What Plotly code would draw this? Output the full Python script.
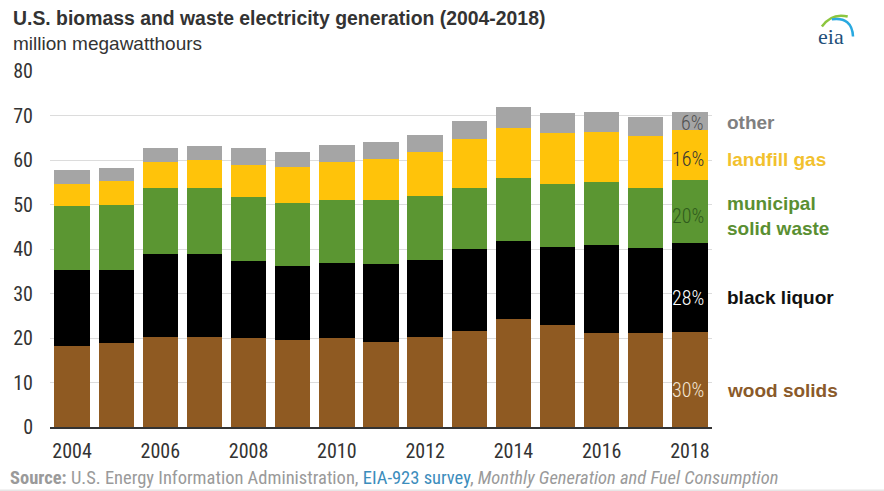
import plotly.graph_objects as go

# U.S. biomass and waste electricity generation, million MWh
years = list(range(2004, 2019))
wood_solids = [18.2, 18.8, 20.2, 20.3, 20.1, 19.6, 20.0, 19.1, 20.2, 21.6, 24.2, 22.9, 21.2, 21.2, 21.3]
black_liquor = [17.0, 16.4, 18.6, 18.6, 17.1, 16.5, 16.9, 17.6, 17.3, 18.3, 17.6, 17.6, 19.6, 19.1, 20.0]
municipal_solid_waste = [14.4, 14.7, 14.9, 14.8, 14.4, 14.3, 14.2, 14.4, 14.4, 13.8, 14.2, 14.1, 14.2, 13.4, 14.1]
landfill_gas = [5.0, 5.3, 5.8, 6.2, 7.3, 8.0, 8.5, 9.1, 9.8, 11.0, 11.3, 11.5, 11.3, 11.8, 11.3]
other = [3.2, 3.0, 3.3, 3.3, 3.8, 3.5, 3.7, 3.9, 4.0, 4.1, 4.6, 4.5, 4.5, 4.1, 4.0]

series_names = ["wood solids", "black liquor", "municipal<br>solid waste", "landfill gas", "other"]
series_values = [wood_solids, black_liquor, municipal_solid_waste, landfill_gas, other]
series_colors = ["#8f5a22", "#000000", "#5b9632", "#ffc30a", "#a5a5a5"]
label_colors = ["#8a5a2a", "#111111", "#5a8f32", "#f2c12e", "#808080"]
pct_colors = ["#f4e6d4", "#ffffff", "#2f5a1c", "#333333", "#505050"]
# vertical placement (in data units) of the right-hand labels
label_rows = [8.3, 29.1, 47.4, 60.2, 68.4]

x_ticks = [2004, 2006, 2008, 2010, 2012, 2014, 2016, 2018]

NARROW = "Liberation Sans Narrow, Arial Narrow, Roboto Condensed, Liberation Sans, Arial, sans-serif"
SANS = "Liberation Sans, Arial, sans-serif"

fig = go.Figure()
for name, vals, col in zip(series_names, series_values, series_colors):
    fig.add_trace(go.Bar(x=years, y=vals, name=name, marker=dict(color=col, line=dict(width=0)),
                         showlegend=False, hoverinfo="x+y+name"))

# shares of the final year
last_total = sum(v[-1] for v in series_values)
shares = [v[-1] / last_total * 100 for v in series_values]

annotations = []
for name, share, row, lcol, pcol in zip(series_names, shares, label_rows, label_colors, pct_colors):
    annotations.append(dict(x=years[-1] + 0.37, y=row, xref="x", yref="y", text=f"{share:.0f}%",
                            showarrow=False, xanchor="right", yanchor="middle",
                            font=dict(family=NARROW, size=20, color=pcol, weight=300)))
    annotations.append(dict(x=1.019, y=row, xref="paper", yref="y", text=f"<b>{name}</b>",
                            showarrow=False, xanchor="left", yanchor="middle", align="left",
                            font=dict(family=SANS, size=19, color=lcol)))

# title block
annotations.append(dict(x=-0.059, y=1.149, xref="paper", yref="paper",
                        text="<b>U.S. biomass and waste electricity generation (2004-2018)</b>",
                        showarrow=False, xanchor="left", yanchor="middle",
                        font=dict(family=SANS, size=19.4, color="#333333")))
annotations.append(dict(x=-0.059, y=1.076, xref="paper", yref="paper",
                        text="million megawatthours",
                        showarrow=False, xanchor="left", yanchor="middle",
                        font=dict(family=SANS, size=19, color="#333333")))
# source line
annotations.append(dict(x=-0.064, y=-0.143, xref="paper", yref="paper",
                        text=("<b>Source:</b> U.S. Energy Information Administration, "
                              "<span style='color:#3c8dbc'>EIA-923 survey</span>, "
                              "<i>Monthly Generation and Fuel Consumption</i>"),
                        showarrow=False, xanchor="left", yanchor="middle",
                        font=dict(family=NARROW, size=18.5, color="#9a9a9a")))
# eia mark
annotations.append(dict(x=1.18, y=1.098, xref="paper", yref="paper", text="eia",
                        showarrow=False, xanchor="center", yanchor="middle",
                        font=dict(family="Liberation Serif, DejaVu Serif, serif", size=22, color="#1f4f7a")))

shapes = [
    dict(type="path", xref="paper", yref="paper",
         path="M 1.166 1.125 Q 1.181 1.164 1.205 1.153", line=dict(color="#8cc63f", width=2.5)),
    dict(type="path", xref="paper", yref="paper",
         path="M 1.181 1.145 Q 1.2115 1.153 1.213 1.097", line=dict(color="#29a9e0", width=2.5)),
    dict(type="line", xref="paper", yref="paper", x0=-0.08, x1=1.26, y0=-0.18, y1=-0.18,
         line=dict(color="#e6e6e6", width=3)),
]

fig.update_layout(
    width=884, height=491,
    margin=dict(l=50, r=172, t=71, b=64, pad=0),
    paper_bgcolor="white", plot_bgcolor="white",
    barmode="stack", bargap=0.2,
    annotations=annotations, shapes=shapes,
    xaxis=dict(range=[2003.5, 2018.5], tickmode="array", tickvals=x_ticks,
               ticktext=[str(t) for t in x_ticks], showgrid=False, zeroline=False,
               showline=True, linecolor="#333333", linewidth=2, ticks="",
               tickfont=dict(family=NARROW, size=20, color="#333333"), ticklabelstandoff=5),
    yaxis=dict(range=[0, 80], tickvals=list(range(0, 81, 10)), showgrid=True,
               gridcolor="#dcdcdc", gridwidth=1, zeroline=False, showline=False, ticks="",
               tickfont=dict(family=NARROW, size=20, color="#333333"), ticklabelstandoff=16),
)

fig.write_html("out.html")
